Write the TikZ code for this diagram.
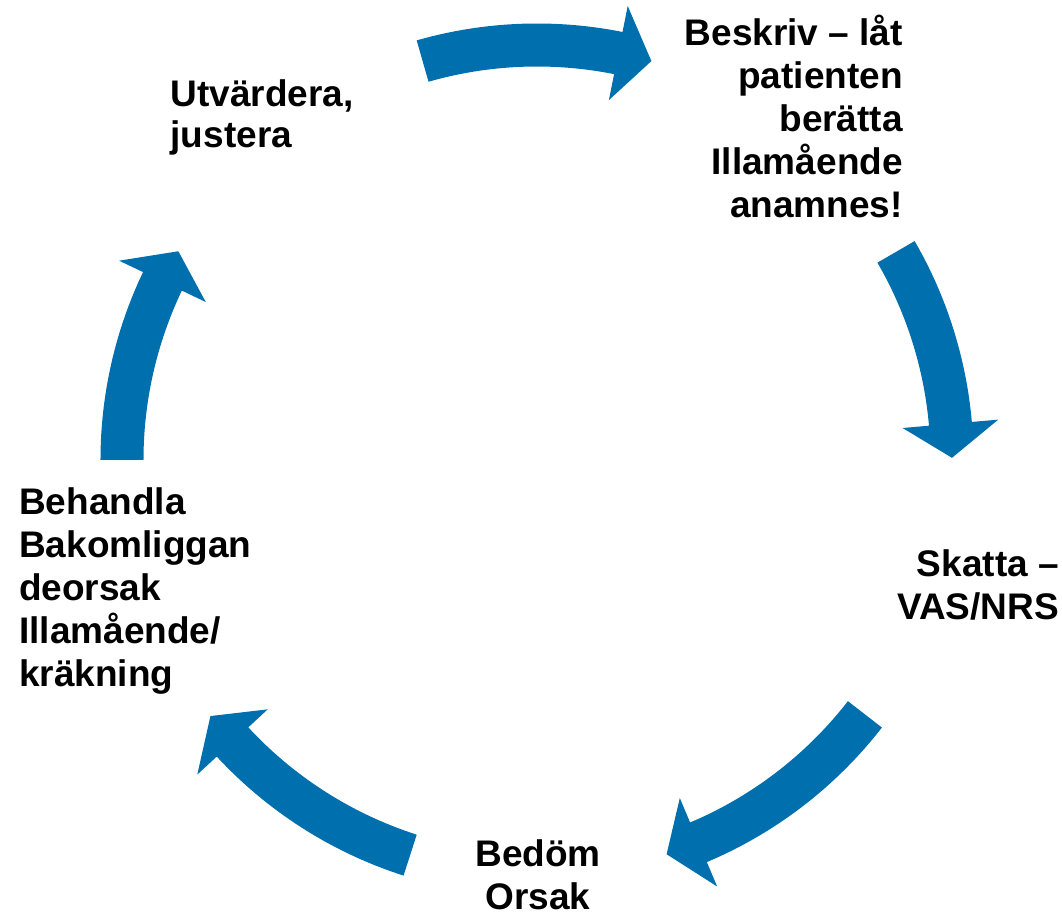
\documentclass[tikz,border=0pt]{standalone}
\usepackage{fontspec}
\setmainfont{Liberation Sans}
\definecolor{cycleblue}{RGB}{0,111,173}

\begin{document}
\begin{tikzpicture}
[x=1pt,y=1pt,
 flow/.style={fill=cycleblue},
 phase/.style={font=\fontsize{37}{43}\selectfont\bfseries,inner sep=0pt}]

\useasboundingbox (-537,-457) rectangle (525,460);

% the five arrows of the cycle, R=415
\fill [flow] (106:436.5) arc[start angle=106,end angle=78.7,radius=436.5]
	-- (78.7:463) -- (74:415) -- (78.7:367) -- (78.7:393.5)
	arc[start angle=78.7,end angle=106,radius=393.5] -- cycle;
\fill [flow] (30.1:436.5) arc[start angle=30.1,end angle=5,radius=436.5]
	-- (5:463) -- (0.3:415) -- (5:367) -- (5:393.5)
	arc[start angle=5,end angle=30.1,radius=393.5] -- cycle;
\fill [flow] (-37.8:436.5) arc[start angle=-37.8,end angle=-67.1,radius=436.5]
	-- (-67.1:463) -- (-71.8:415) -- (-67.1:367) -- (-67.1:393.5)
	arc[start angle=-67.1,end angle=-37.8,radius=393.5] -- cycle;
\fill [flow] (-107.8:436.5) arc[start angle=-107.8,end angle=-137.2,radius=436.5]
	-- (-137.2:463) -- (-141.9:415) -- (-137.2:367) -- (-137.2:393.5)
	arc[start angle=-137.2,end angle=-107.8,radius=393.5] -- cycle;
\fill [flow] (180:436.5) arc[start angle=180,end angle=154.5,radius=436.5]
	-- (154.5:463) -- (149.8:415) -- (154.5:367) -- (154.5:393.5)
	arc[start angle=154.5,end angle=180,radius=393.5] -- cycle;

% the steps (base = last line)
\node (beskriv) [phase,align=right,anchor=base east] at (366,242.3)
	{Beskriv – låt\\patienten\\berätta\\Illamående\\anamnes!};
\node (skatta) [phase,align=right,anchor=base east] at (522,-160)
	{Skatta –\\VAS/NRS};
\node (bedom) [phase,align=center,anchor=base] at (1,-449)
	{Bedöm\\Orsak};
\node (behandla) [phase,align=left,anchor=base west] at (-518,-226.3)
	{Behandla\\Bakomliggan\\deorsak\\Illamående/\\kräkning};
\node (utvardera) [phase,font=\fontsize{37}{41}\selectfont\bfseries,
	align=left,anchor=base west] at (-366.5,312.3)
	{Utvärdera,\\justera};
\end{tikzpicture}
\end{document}
